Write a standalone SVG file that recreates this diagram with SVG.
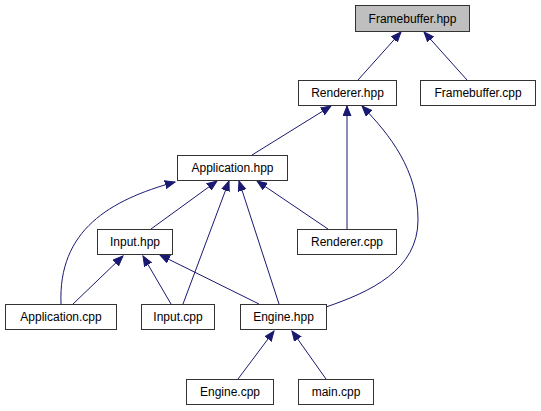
<svg xmlns="http://www.w3.org/2000/svg" width="541" height="411" viewBox="0 0 541 411">
<style>
.n rect{fill:#fff;stroke:#333;stroke-width:1}
.n text{font-family:"Liberation Sans",Arial,sans-serif;font-size:12px;fill:#000;text-anchor:middle}
#e path{fill:none;stroke:#191970;stroke-width:1;marker-end:url(#a)}
</style>
<defs>
<marker id="a" markerUnits="userSpaceOnUse" markerWidth="12" markerHeight="10" refX="10" refY="4.5" orient="auto">
<path d="M0,0.5 L10,4.5 L0,8.5 z" fill="#191970" stroke="#191970" stroke-width="1"/>
</marker>
</defs>
<rect width="541" height="411" fill="#fff"/>
<g id="e">
<path d="M358,80 L401,32"/>
<path d="M467,80 L424,32"/>
<path d="M252,155 L331,106"/>
<path d="M347,229 L347,106"/>
<path d="M326,307 C370,292 418,270 418,220 C418,170 390,135 362,106"/>
<path d="M151,229 L217,181"/>
<path d="M183,304 L229,181"/>
<path d="M279,304 L239,181"/>
<path d="M328,229 L257,181"/>
<path d="M61,304 C58,230 110,200 175,182"/>
<path d="M73,304 L123,256"/>
<path d="M171,304 L143,256"/>
<path d="M259,304 L160,255"/>
<path d="M238,379 L274,331"/>
<path d="M326,379 L292,331"/>
</g>
<g id="framebuffer_hpp" class="n"><rect x="355.5" y="5.5" width="114" height="26" style="fill:#bfbfbf"/><text x="412.5" y="22.5">Framebuffer.hpp</text></g>
<g id="renderer_hpp" class="n"><rect x="298.5" y="80.5" width="98" height="25"/><text x="347.5" y="97">Renderer.hpp</text></g>
<g id="framebuffer_cpp" class="n"><rect x="420.5" y="80.5" width="115" height="25"/><text x="478" y="97">Framebuffer.cpp</text></g>
<g id="application_hpp" class="n"><rect x="177.5" y="155.5" width="110" height="25"/><text x="232.5" y="172">Application.hpp</text></g>
<g id="input_hpp" class="n"><rect x="97.5" y="229.5" width="75" height="25"/><text x="135" y="246">Input.hpp</text></g>
<g id="renderer_cpp" class="n"><rect x="297.5" y="229.5" width="99" height="25"/><text x="347" y="246">Renderer.cpp</text></g>
<g id="application_cpp" class="n"><rect x="5.5" y="304.5" width="111" height="25"/><text x="61" y="321">Application.cpp</text></g>
<g id="input_cpp" class="n"><rect x="141.5" y="304.5" width="73" height="25"/><text x="178" y="321">Input.cpp</text></g>
<g id="engine_hpp" class="n"><rect x="240.5" y="304.5" width="86" height="25"/><text x="283.5" y="321">Engine.hpp</text></g>
<g id="engine_cpp" class="n"><rect x="186.5" y="379.5" width="87" height="25"/><text x="230" y="396">Engine.cpp</text></g>
<g id="main_cpp" class="n"><rect x="298.5" y="379.5" width="75" height="25"/><text x="336" y="396">main.cpp</text></g>
</svg>
